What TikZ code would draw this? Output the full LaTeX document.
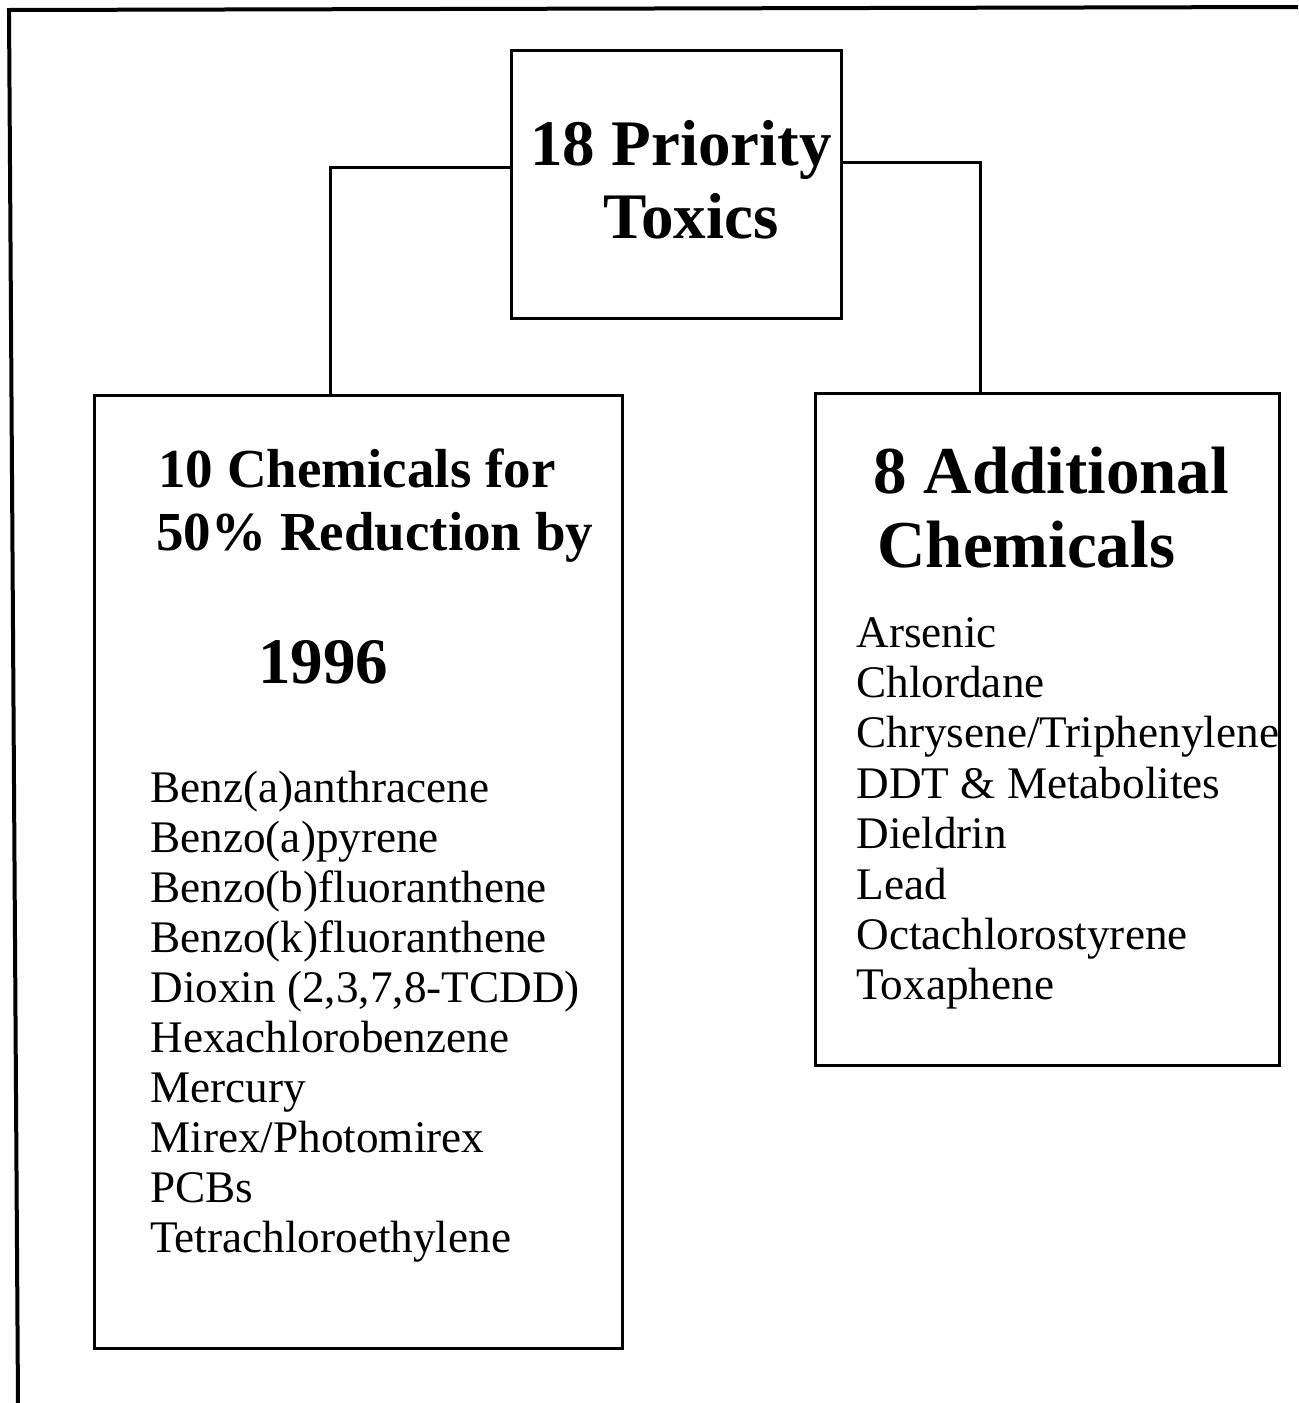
\documentclass[tikz,border=0pt]{standalone}
\usepackage{fontspec}
\setmainfont{Liberation Serif}
\usetikzlibrary{positioning}

\begin{document}
\begin{tikzpicture}[x=0.5pt,y=-0.5pt,
 box/.style={draw,line width=1.5pt,inner sep=0pt},
 bighead/.style={anchor=base,inner sep=0pt,font=\bfseries\fontsize{32.5}{36}\selectfont},
 head/.style={anchor=base west,inner sep=0pt,font=\bfseries\fontsize{27.5}{31}\selectfont},
 sidehead/.style={anchor=base west,inner sep=0pt,font=\bfseries\fontsize{33.5}{37}\selectfont},
 item/.style={anchor=base west,inner sep=0pt,font=\fontsize{22.6}{26}\selectfont},
 link/.style={line width=1.5pt}]
\useasboundingbox (0,0) rectangle (1298,1403);
% page frame, open on the right and at the bottom
\draw[line width=2pt] (1298,7) -- (9,10) -- (18,1403);
% boxes
\node[box,minimum width=165pt,minimum height=134pt] (top) at (676,184) {};
\node[box,minimum width=264pt,minimum height=476.5pt] (tenbox) at (358,871.5) {};
\node[box,minimum width=232pt,minimum height=336pt] (eightbox) at (1047,729) {};
\draw[link] ([yshift=8.5pt]top.west) -| ([xshift=-14pt]tenbox.north);
\draw[link] ([yshift=11pt]top.east) -| ([xshift=-33.5pt]eightbox.north);
% titles
\node[bighead] (toptitle) at (681,165) {18 Priority};
\node[bighead] (toptitleb) at (691,238) {Toxics};
\node[head] (tenhead) at (158,487) {10 Chemicals for};
\node[head] (tenheadb) at (156,550) {50\% Reduction by};
\node[bighead,anchor=base west] (tenyear) at (258,683) {1996};
\node[sidehead] (eighthead) at (873,493) {8 Additional};
\node[sidehead] (eightheadb) at (877,567) {Chemicals};
% lists
\foreach \name [count=\i from 0] in {Benz(a)anthracene,Benzo(a)pyrene,
 Benzo(b)fluoranthene,Benzo(k)fluoranthene,{Dioxin (2,3,7,8-TCDD)},
 Hexachlorobenzene,Mercury,Mirex/Photomirex,PCBs,Tetrachloroethylene}
 \node[item] (ten\i) at (150,{802+50*\i}) {\name};
\foreach \name [count=\i from 0] in {Arsenic,Chlordane,Chrysene/Triphenylene,
 DDT \& Metabolites,Dieldrin,Lead,Octachlorostyrene,Toxaphene}
 \node[item] (eight\i) at (856,{647+50.4*\i}) {\name};
\end{tikzpicture}
\end{document}
